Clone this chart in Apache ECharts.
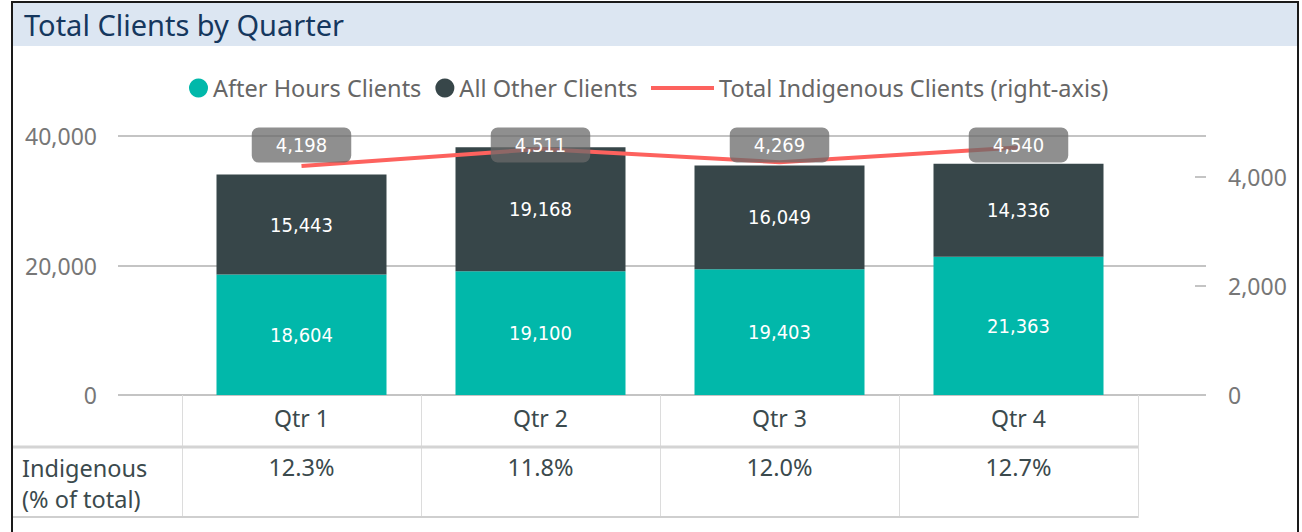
<!DOCTYPE html>
<html>
<head>
<meta charset="utf-8">
<script src="https://cdn.jsdelivr.net/npm/echarts@6/dist/echarts.min.js"></script>
<style>
  html, body { margin: 0; padding: 0; background: #ffffff; }
  #chart { width: 1302px; height: 532px; }
</style>
</head>
<body>
<div id="chart"></div>
<script>
// ---- data ----
const categories = ['Qtr 1', 'Qtr 2', 'Qtr 3', 'Qtr 4'];
const afterHoursClients = [18604, 19100, 19403, 21363];
const allOtherClients = [15443, 19168, 16049, 14336];
const indigenousClients = [4198, 4511, 4269, 4540];
const indigenousPct = ['12.3%', '11.8%', '12.0%', '12.7%'];
const leftTicks = { min: 0, max: 40000, interval: 20000 };
const rightTicks = { min: 0, max: 4750, interval: 2000 };

const UI_FONT = "'Noto Sans', 'Open Sans', sans-serif";
const NUM_FONT = "'DejaVu Sans Condensed', 'DejaVu Sans', sans-serif";
const fmt = v => Number(v).toLocaleString('en-US');

const chart = echarts.init(document.getElementById('chart'), null, { renderer: 'svg' });

const option = {
  animation: false,
  backgroundColor: '#ffffff',
  title: {
    text: 'Total Clients by Quarter',
    left: 19, top: 5,
    textStyle: { fontFamily: UI_FONT, fontSize: 29, fontWeight: 'normal', color: '#15375e' }
  },
  legend: [
    {
      data: ['After Hours Clients', 'All Other Clients'],
      left: 184, top: 71,
      icon: 'circle', itemWidth: 19, itemHeight: 19, itemGap: 14,
      textStyle: { fontFamily: UI_FONT, fontSize: 23.5, color: '#666666' }
    },
    {
      data: ['Total Indigenous Clients (right-axis)'],
      left: 646, top: 71,
      icon: 'rect', itemWidth: 63, itemHeight: 4,
      textStyle: { fontFamily: UI_FONT, fontSize: 23.5, color: '#666666' }
    }
  ],
  grid: [
    { left: 182, right: 164, top: 136, bottom: 137 },
    { left: 118, right: 96, top: 136, bottom: 137 }
  ],
  xAxis: [
    {
      type: 'category', gridIndex: 0, data: categories, position: 'bottom',
      axisLine: { show: false },
      axisTick: { show: true, length: 123, interval: 0, lineStyle: { color: '#dcdcdc', width: 1 } },
      axisLabel: { margin: 23, verticalAlign: 'middle', fontFamily: UI_FONT, fontSize: 23, color: '#3b4a4d' }
    },
    {
      type: 'category', gridIndex: 0, data: indigenousPct, position: 'bottom', offset: 0,
      axisLine: { show: false }, axisTick: { show: false },
      axisLabel: { margin: 72, verticalAlign: 'middle', fontFamily: UI_FONT, fontSize: 23.5, color: '#3b4a4d' }
    },
    { type: 'value', gridIndex: 1, min: 0, max: 1, show: false }
  ],
  yAxis: [
    { type: 'value', gridIndex: 0, min: leftTicks.min, max: leftTicks.max, show: false },
    { type: 'value', gridIndex: 0, min: rightTicks.min, max: rightTicks.max, show: false },
    {
      type: 'value', gridIndex: 1, position: 'left',
      min: leftTicks.min, max: leftTicks.max, interval: leftTicks.interval,
      axisLine: { show: false }, axisTick: { show: false },
      splitLine: { show: true, lineStyle: { color: '#c4c4c4', width: 2 } },
      axisLabel: { margin: 21, fontFamily: UI_FONT, fontSize: 23, color: '#777777', formatter: v => fmt(v) }
    },
    {
      type: 'value', gridIndex: 1, position: 'right',
      min: rightTicks.min, max: rightTicks.max, interval: rightTicks.interval,
      axisLine: { show: false },
      axisTick: { show: true, inside: true, length: 11, lineStyle: { color: '#c4c4c4', width: 2 } },
      splitLine: { show: false },
      axisLabel: { margin: 22, showMaxLabel: false, fontFamily: UI_FONT, fontSize: 23, color: '#777777',
        formatter: v => (v % rightTicks.interval === 0 ? fmt(v) : '') }
    }
  ],
  series: [
    {
      name: 'After Hours Clients', type: 'bar', stack: 'clients',
      xAxisIndex: 0, yAxisIndex: 0, data: afterHoursClients, barWidth: 170,
      itemStyle: { color: '#01b8aa' },
      label: { show: true, position: 'inside', color: '#ffffff', fontFamily: NUM_FONT, fontSize: 20, formatter: p => fmt(p.value) }
    },
    {
      name: 'All Other Clients', type: 'bar', stack: 'clients',
      xAxisIndex: 0, yAxisIndex: 0, data: allOtherClients, barWidth: 170,
      itemStyle: { color: '#374649' },
      label: { show: true, position: 'inside', color: '#ffffff', fontFamily: NUM_FONT, fontSize: 20, formatter: p => fmt(p.value) }
    },
    {
      name: 'Total Indigenous Clients (right-axis)', type: 'line',
      xAxisIndex: 0, yAxisIndex: 1, data: indigenousClients,
      symbol: 'circle', symbolSize: 0, showSymbol: true, z: 5,
      lineStyle: { color: '#fd625e', width: 4 },
      itemStyle: { color: '#fd625e' },
      label: {
        show: true, position: 'top', align: 'center', verticalAlign: 'middle',
        color: '#ffffff', fontFamily: NUM_FONT, fontSize: 20,
        backgroundColor: 'rgba(105,105,105,0.75)', borderRadius: 7,
        padding: [8, 24, 7, 24],
        formatter: p => fmt(p.value)
      },
      labelLayout: () => ({ y: 145, align: 'center', verticalAlign: 'middle' })
    }
  ],
  graphic: [
    { type: 'rect', z: -10, silent: true, shape: { x: 13, y: 3, width: 1284, height: 43 }, style: { fill: '#dce6f2' } },
    { type: 'rect', z: 100, silent: true, shape: { x: 12, y: 2, width: 1286, height: 560 }, style: { fill: 'none', stroke: '#1a1a1a', lineWidth: 2 } },
    { type: 'rect', z: 1, silent: true, shape: { x: 13, y: 445.5, width: 1125, height: 3 }, style: { fill: '#d4d4d4' } },
    { type: 'rect', z: 1, silent: true, shape: { x: 13, y: 516, width: 1125, height: 2 }, style: { fill: '#cfcfcf' } },
    {
      type: 'text', z: 10, silent: true, left: 22, top: 452,
      style: { text: 'Indigenous\n(% of total)', fontFamily: UI_FONT, fontSize: 23.5, lineHeight: 31, fill: '#3b4a4d' }
    }
  ]
};
chart.setOption(option);
</script>
</body>
</html>
